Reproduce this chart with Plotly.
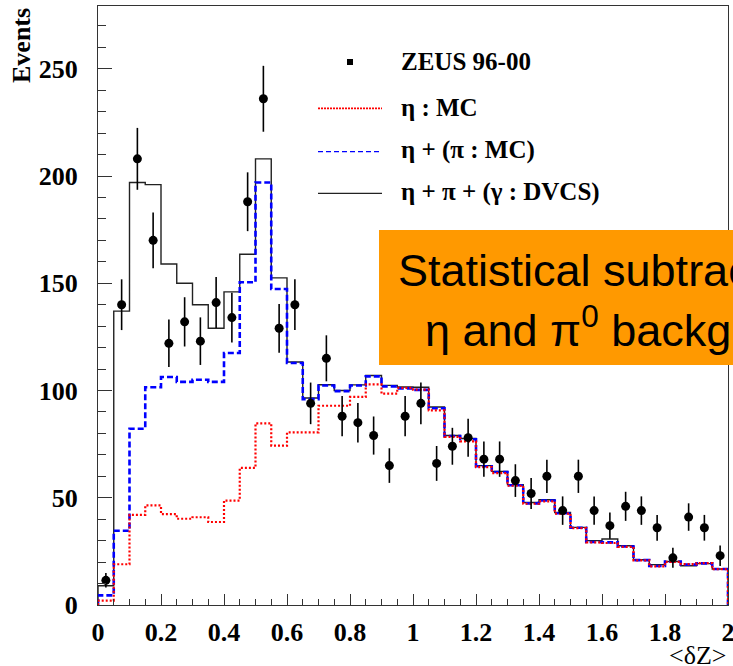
import numpy as np
import plotly.graph_objects as go

# ---- data (40 bins of <dZ>, width 0.05, from 0 to 2) ----
bin_edges = [round(0.05 * i, 2) for i in range(41)]
bin_centers = [round(0.025 + 0.05 * i, 3) for i in range(40)]

zeus_events = [11.5, 140, 208, 170, 122, 132, 123, 141, 134, 188,
               236, 129, 140, 94, 115, 88, 85, 79, 65, 88,
               94, 66, 74, 78, 68, 68, 58, 52, 60, 44,
               60, 44, 37, 46, 44, 36, 22, 41, 36, 23]

eta_mc = [2, 19, 42, 46.4, 42.4, 40.2, 40.9, 38.7, 48.7, 63.9,
          84.7, 74.3, 80.5, 80.5, 92.9, 92.9, 97, 102.9, 98.5, 101.2,
          100.4, 90.7, 78.4, 76.3, 64.3, 61.5, 55.6, 47.2, 48.3, 42.6,
          35.8, 29.2, 28.9, 27.1, 20.8, 18, 20.1, 19.1, 19.5, 16.7]

eta_pi_mc = [4.5, 34.6, 82.2, 101.5, 106.3, 104, 105, 104, 117.5, 150.5,
             197, 147.3, 112.8, 96, 102.3, 99.7, 102.3, 106.6, 101.9, 101,
             100.3, 91.7, 78.8, 77.3, 64.7, 62, 55.8, 47.4, 48.7, 42.8,
             36, 29.4, 29.2, 27.3, 20.9, 18.2, 20.2, 18.8, 19.4, 16.8]

eta_pi_dvcs = [9, 137, 197, 196, 159, 150, 140, 129, 146, 163.5,
               208, 152.5, 113.3, 96.5, 102.7, 100, 102.6, 107, 102.4, 101.6,
               101.5, 92.3, 79, 77.6, 65, 62.3, 56.1, 47.8, 49.1, 43.1,
               36.2, 30, 30.8, 27.6, 21.1, 18.8, 20.3, 18.3, 19.3, 16.8]

legend_labels = ["ZEUS 96-00", "\u03b7 : MC", "\u03b7 + (\u03c0 : MC)",
                 "\u03b7 + \u03c0 + (\u03b3 : DVCS)"]

x_ticks = [0, 0.2, 0.4, 0.6, 0.8, 1, 1.2, 1.4, 1.6, 1.8, 2]
y_ticks = [0, 50, 100, 150, 200, 250]

# ---- geometry helpers (page pixels -> paper coords) ----
W, H = 733, 666
ML, MR, MT, MB = 98, 5, 6, 61
PW, PH = W - ML - MR, H - MT - MB


def px(xp):
    return (xp - ML) / PW


def py(yp):
    return (H - MB - yp) / PH


def step_xy(vals):
    xs = [bin_edges[0]] + bin_edges[:-1] + [bin_edges[-1], bin_edges[-1]]
    ys = [0] + list(vals) + [vals[-1], 0]
    return xs, ys


fig = go.Figure()

for vals, color, width, dash in [
    (eta_pi_dvcs, "#222222", 1.4, "solid"),
    (eta_pi_mc, "#0000ff", 2.6, "6px,3px"),
    (eta_mc, "#ff0000", 2.2, "2px,2px"),
]:
    xs, ys = step_xy(vals)
    fig.add_trace(go.Scatter(x=xs, y=ys, mode="lines", line_shape="hv",
                             line=dict(color=color, width=width, dash=dash),
                             showlegend=False, hoverinfo="skip"))

fig.add_trace(go.Scatter(
    x=bin_centers, y=zeus_events, mode="markers",
    marker=dict(color="black", size=9, symbol="circle"),
    error_y=dict(type="data", array=list(np.sqrt(zeus_events)),
                 color="black", thickness=1.6, width=0),
    showlegend=False))

serif_bold = dict(family="Liberation Serif, Times New Roman, serif", size=26,
                  color="black", weight="bold")

fig.update_xaxes(range=[0, 2], tickvals=x_ticks, ticktext=[str(v) for v in x_ticks],
                 ticks="inside", ticklen=11, tickwidth=1.3, tickcolor="#333",
                 minor=dict(dtick=0.05, tick0=0, ticks="inside", ticklen=6, tickwidth=1.2, tickcolor="#333"),
                 showline=True, linecolor="#333", linewidth=1.3, mirror=True,
                 showgrid=False, zeroline=False, tickfont=serif_bold,
                 ticklabelstandoff=4, ticklabeloverflow="allow", automargin=False)
fig.update_yaxes(range=[0, PH / 2.145], tickvals=y_ticks, ticktext=[str(v) for v in y_ticks],
                 ticks="inside", ticklen=14, tickwidth=1.3, tickcolor="#333",
                 minor=dict(dtick=10, tick0=0, ticks="inside", ticklen=8, tickwidth=1.2, tickcolor="#333"),
                 showline=True, linecolor="#333", linewidth=1.3, mirror=True,
                 showgrid=False, zeroline=False, tickfont=serif_bold,
                 ticklabelstandoff=14, ticklabeloverflow="allow", automargin=False)

shapes = []
annotations = []

# axis titles
annotations.append(dict(text="<b>Events</b>", textangle=-90, xref="paper", yref="paper",
                        x=px(22), y=py(46), xanchor="center", yanchor="middle",
                        showarrow=False, font=dict(family="Liberation Serif, serif", size=26, color="black")))
annotations.append(dict(text="&lt;\u03b4Z&gt;", xref="paper", yref="paper",
                        x=px(728), y=py(655), xanchor="right", yanchor="middle",
                        showarrow=False, font=dict(family="Liberation Serif, serif", size=26, color="black")))

# legend (drawn manually)
shapes.append(dict(type="rect", xref="paper", yref="paper",
                   x0=px(347), x1=px(353), y0=py(65), y1=py(59),
                   fillcolor="black", line=dict(width=0)))
leg_lines = [(108.3, "#ff0000", 1.8, "2px,1px"), (151.7, "#0000ff", 1.2, "5px,3px"),
             (193.3, "#222222", 1.3, "solid")]
for yl, c, w, d in leg_lines:
    shapes.append(dict(type="line", xref="paper", yref="paper",
                       x0=px(318), x1=px(382), y0=py(yl), y1=py(yl),
                       line=dict(color=c, width=w, dash=d)))
leg_y = [62, 107, 150, 192]
for lab, yl in zip(legend_labels, leg_y):
    annotations.append(dict(text="<b>" + lab + "</b>", xref="paper", yref="paper",
                            x=px(399), y=py(yl), xanchor="left", yanchor="middle",
                            showarrow=False,
                            font=dict(family="Liberation Serif, serif", size=25, color="black")))

# orange overlay box
shapes.append(dict(type="rect", xref="paper", yref="paper", layer="above",
                   x0=px(379), x1=px(760), y0=py(365), y1=py(230),
                   fillcolor="#ff9900", line=dict(width=0)))
sans = dict(family="Liberation Sans, Arial, sans-serif", size=45, color="black")
annotations.append(dict(text="Statistical subtraction of", xref="paper", yref="paper",
                        x=px(396), y=py(270), xanchor="left", yanchor="middle",
                        showarrow=False, font=sans))
annotations.append(dict(text="\u03b7 and \u03c0<sup>0</sup> background", xref="paper", yref="paper",
                        x=px(423), y=py(327), xanchor="left", yanchor="middle",
                        showarrow=False, font=sans))

fig.update_layout(width=W, height=H, margin=dict(l=ML, r=MR, t=MT, b=MB, autoexpand=False),
                  paper_bgcolor="white", plot_bgcolor="white",
                  shapes=shapes, annotations=annotations, showlegend=False)

fig.write_html("out.html")
